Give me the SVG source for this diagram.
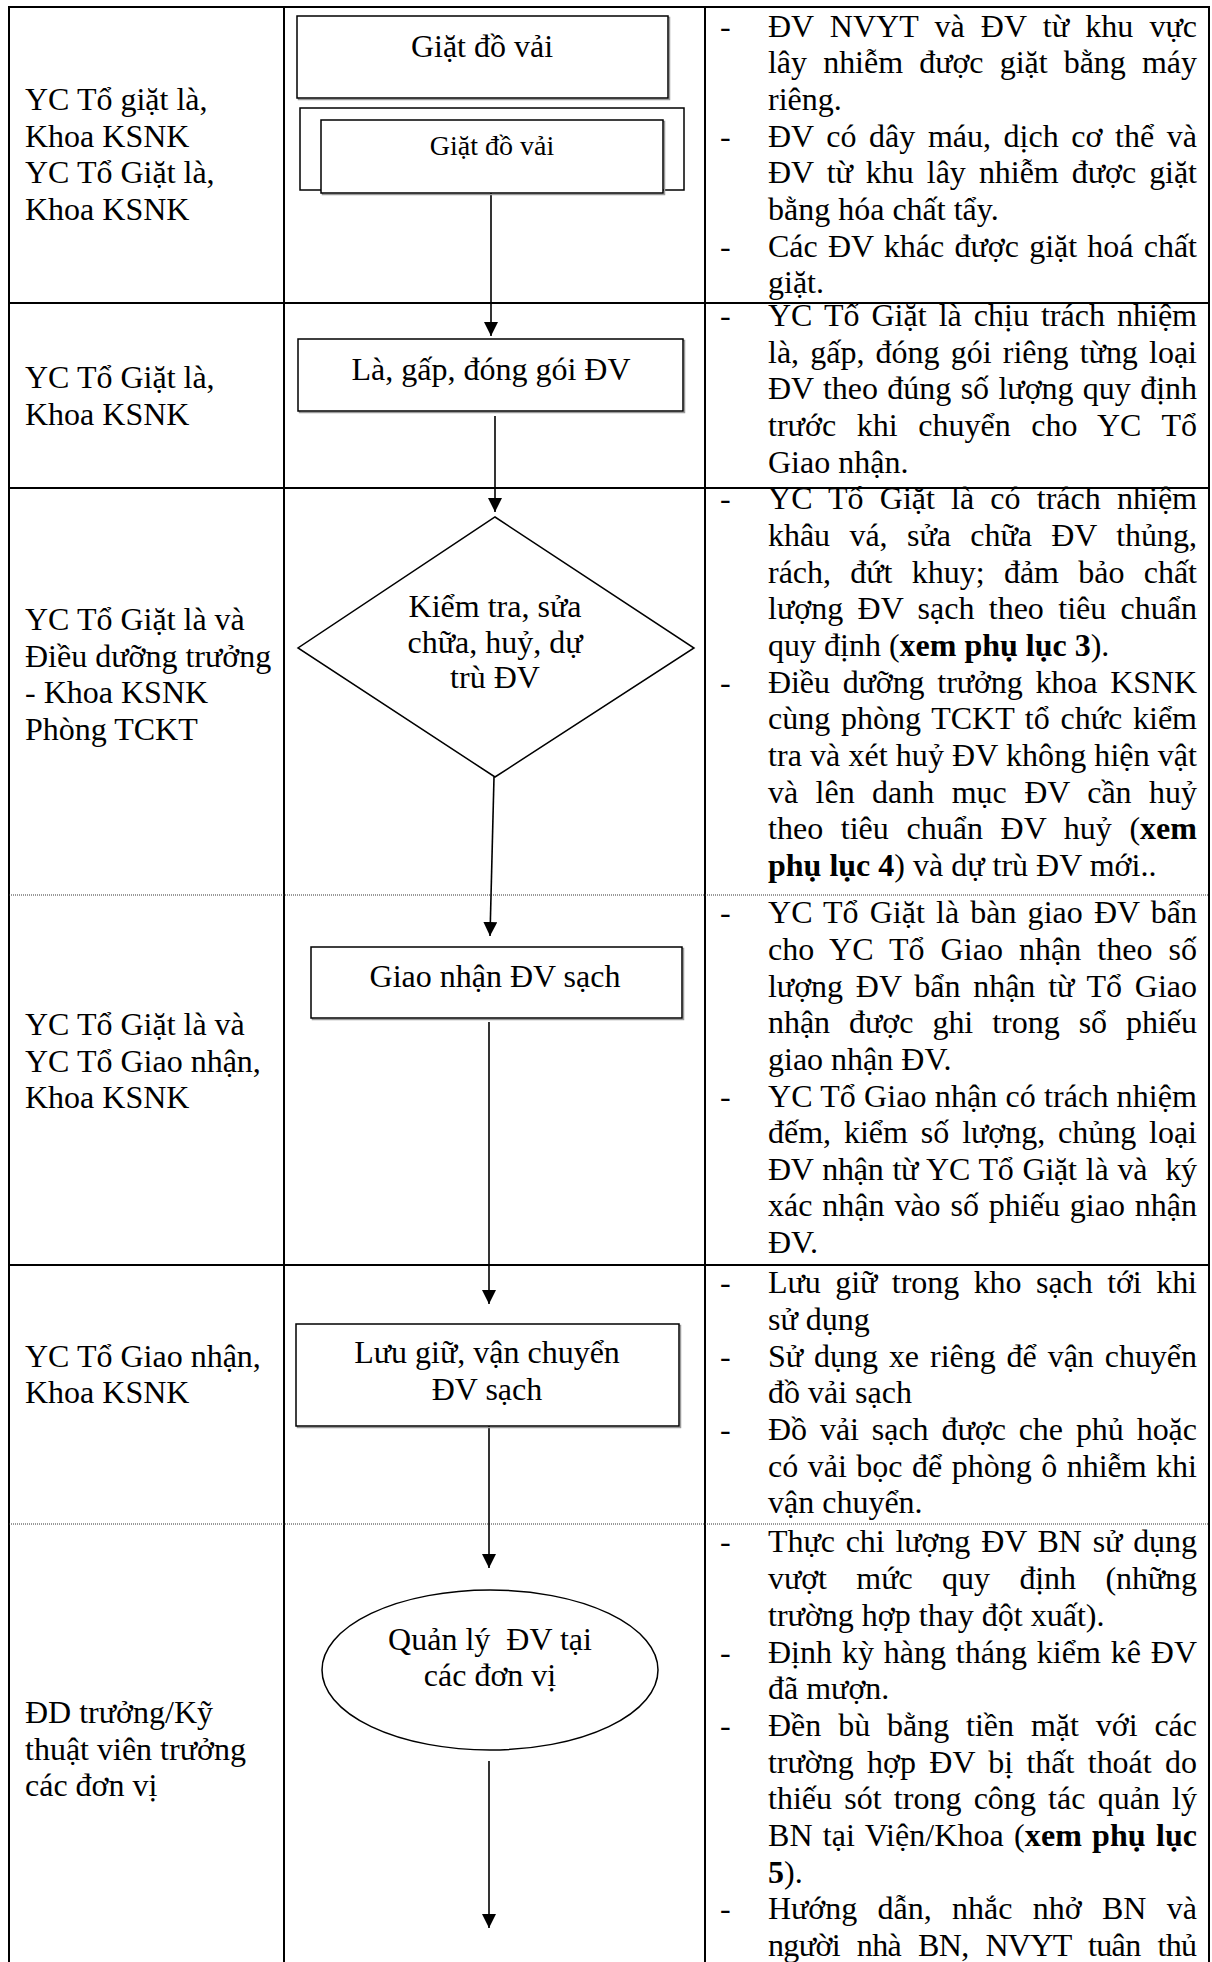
<svg xmlns="http://www.w3.org/2000/svg" width="1212" height="1962" viewBox="0 0 1212 1962">
<style>
.tx{font-family:"Liberation Serif","Times New Roman",serif;font-size:32px;fill:#000}
.c{text-anchor:middle}
.sm{font-size:28px}
.b{font-weight:bold}
.grid{stroke:#000;stroke-width:2;fill:none}
.dot{stroke:#333;stroke-width:1;stroke-dasharray:1 1;fill:none}
.node{fill:#fff;stroke:#000;stroke-width:1.5}
.shadow{fill:none;stroke:#9a9a9a;stroke-width:1.5}
.edge{stroke:#000;stroke-width:1.6;fill:none;marker-end:url(#ah)}
</style>
<defs>
<marker id="ah" viewBox="0 0 14 14" markerWidth="14" markerHeight="14" refX="14" refY="7" orient="auto" markerUnits="userSpaceOnUse">
<path d="M0,0 L14,7 L0,14 z" fill="#000"/>
</marker>
</defs>
<rect width="1212" height="1962" fill="#fff"/>
<g id="table">
<line class="grid" x1="9" y1="7" x2="1209" y2="7"/>
<line class="grid" x1="9" y1="6" x2="9" y2="1962"/>
<line class="grid" x1="284" y1="6" x2="284" y2="1962"/>
<line class="grid" x1="705" y1="6" x2="705" y2="1962"/>
<line class="grid" x1="1209" y1="6" x2="1209" y2="1962"/>
<line class="grid" x1="9" y1="303" x2="1209" y2="303"/>
<line class="grid" x1="9" y1="488" x2="1209" y2="488"/>
<line class="grid" x1="9" y1="1265" x2="1209" y2="1265"/>
<line class="dot" x1="9" y1="895" x2="1209" y2="895"/>
<line class="dot" x1="9" y1="1524" x2="1209" y2="1524"/>
</g>
<g id="labels" class="tx">
<text x="25" y="110">YC Tổ giặt là,</text>
<text x="25" y="147">Khoa KSNK</text>
<text x="25" y="183">YC Tổ Giặt là,</text>
<text x="25" y="220">Khoa KSNK</text>
<text x="25" y="388">YC Tổ Giặt là,</text>
<text x="25" y="425">Khoa KSNK</text>
<text x="25" y="630">YC Tổ Giặt là và</text>
<text x="25" y="667">Điều dưỡng trưởng</text>
<text x="25" y="703">- Khoa KSNK</text>
<text x="25" y="740">Phòng TCKT</text>
<text x="25" y="1035">YC Tổ Giặt là và</text>
<text x="25" y="1072">YC Tổ Giao nhận,</text>
<text x="25" y="1108">Khoa KSNK</text>
<text x="25" y="1367">YC Tổ Giao nhận,</text>
<text x="25" y="1403">Khoa KSNK</text>
<text x="25" y="1723">ĐD trưởng/Kỹ</text>
<text x="25" y="1760">thuật viên trưởng</text>
<text x="25" y="1796">các đơn vị</text>
</g>
<g id="connectors">
<line class="edge" x1="491" y1="193" x2="491" y2="336"/>
<line class="edge" x1="495" y1="416" x2="495" y2="512"/>
<line class="edge" x1="494" y1="777" x2="490" y2="936"/>
<line class="edge" x1="489" y1="1022" x2="489" y2="1304"/>
<line class="edge" x1="489" y1="1426" x2="489" y2="1568"/>
<line class="edge" x1="489" y1="1761" x2="489" y2="1928"/>
</g>
<g id="n1">
<rect class="shadow" x="298.5" y="17.5" width="371" height="82"/>
<rect class="node" x="297" y="16" width="371" height="82"/>
<text class="tx c" x="482" y="57">Giặt đồ vải</text>
</g>
<g id="n2">
<rect class="node" x="300" y="108" width="384" height="82"/>
<rect class="shadow" x="322.5" y="121.5" width="342" height="73"/>
<rect class="node" x="321" y="120" width="342" height="73"/>
<text class="tx c sm" x="492" y="155">Giặt đồ vải</text>
</g>
<g id="n3">
<rect class="shadow" x="299.5" y="340.5" width="385" height="72"/>
<rect class="node" x="298" y="339" width="385" height="72"/>
<text class="tx c" x="491" y="380">Là, gấp, đóng gói ĐV</text>
</g>
<g id="n4">
<polygon class="node" points="495,517 694,648 495,777 298,648"/>
<text class="tx c" x="495" y="617">Kiểm tra, sửa</text>
<text class="tx c" x="495" y="653">chữa, huỷ, dự</text>
<text class="tx c" x="495" y="688">trù ĐV</text>
</g>
<g id="n5">
<rect class="shadow" x="312.5" y="948.5" width="371" height="71"/>
<rect class="node" x="311" y="947" width="371" height="71"/>
<text class="tx c" x="495" y="987">Giao nhận ĐV sạch</text>
</g>
<g id="n6">
<rect class="shadow" x="297.5" y="1325.5" width="383" height="102"/>
<rect class="node" x="296" y="1324" width="383" height="102"/>
<text class="tx c" x="487" y="1363">Lưu giữ, vận chuyển</text>
<text class="tx c" x="487" y="1400">ĐV sạch</text>
</g>
<g id="n7">
<ellipse class="node" cx="490" cy="1670" rx="168" ry="80"/>
<text class="tx c" x="490" y="1650" xml:space="preserve">Quản lý  ĐV tại</text>
<text class="tx c" x="490" y="1686">các đơn vị</text>
</g>
<g id="notes" class="tx">
<text x="720" y="37">-</text>
<text x="768" y="37" textLength="429" lengthAdjust="spacing" word-spacing="8.2">ĐV NVYT và ĐV từ khu vực</text>
<text x="768" y="73" textLength="429" lengthAdjust="spacing" word-spacing="8.2">lây nhiễm được giặt bằng máy</text>
<text x="768" y="110">riêng.</text>
<text x="720" y="147">-</text>
<text x="768" y="147" textLength="429" lengthAdjust="spacing" word-spacing="4.6">ĐV có dây máu, dịch cơ thể và</text>
<text x="768" y="183" textLength="429" lengthAdjust="spacing" word-spacing="5.1">ĐV từ khu lây nhiễm được giặt</text>
<text x="768" y="220">bằng hóa chất tẩy.</text>
<text x="720" y="257">-</text>
<text x="768" y="257" textLength="429" lengthAdjust="spacing" word-spacing="2.3">Các ĐV khác được giặt hoá chất</text>
<text x="768" y="293">giặt.</text>

<text x="720" y="326">-</text>
<text x="768" y="326" textLength="429" lengthAdjust="spacing" word-spacing="4">YC Tổ Giặt là chịu trách nhiệm</text>
<text x="768" y="363" textLength="429" lengthAdjust="spacing" word-spacing="3.2">là, gấp, đóng gói riêng từng loại</text>
<text x="768" y="399" textLength="429" lengthAdjust="spacing" word-spacing="1.4">ĐV theo đúng số lượng quy định</text>
<text x="768" y="436" textLength="429" lengthAdjust="spacing" word-spacing="12.5">trước khi chuyển cho YC Tổ</text>
<text x="768" y="473">Giao nhận.</text>

<text x="720" y="509">-</text>
<text x="768" y="509" textLength="429" lengthAdjust="spacing" word-spacing="8.1">YC Tổ Giặt là có trách nhiệm</text>
<text x="768" y="546" textLength="429" lengthAdjust="spacing" word-spacing="11.4">khâu vá, sửa chữa ĐV thủng,</text>
<text x="768" y="583" textLength="429" lengthAdjust="spacing" word-spacing="11.4">rách, đứt khuy; đảm bảo chất</text>
<text x="768" y="619" textLength="429" lengthAdjust="spacing" word-spacing="6.4">lượng ĐV sạch theo tiêu chuẩn</text>
<text x="768" y="656">quy định (<tspan class="b">xem phụ lục 3</tspan>).</text>
<text x="720" y="693">-</text>
<text x="768" y="693" textLength="429" lengthAdjust="spacing" word-spacing="5">Điều dưỡng trưởng khoa KSNK</text>
<text x="768" y="729" textLength="429" lengthAdjust="spacing" word-spacing="2.7">cùng phòng TCKT tổ chức kiểm</text>
<text x="768" y="766" textLength="429" lengthAdjust="spacing">tra và xét huỷ ĐV không hiện vật</text>
<text x="768" y="803" textLength="429" lengthAdjust="spacing" word-spacing="9.3">và lên danh mục ĐV cần huỷ</text>
<text x="768" y="839" textLength="429" lengthAdjust="spacing" word-spacing="9.5">theo tiêu chuẩn ĐV huỷ (<tspan class="b">xem</tspan></text>
<text x="768" y="876"><tspan class="b">phụ lục 4</tspan>) và dự trù ĐV mới..</text>

<text x="720" y="923">-</text>
<text x="768" y="923" textLength="429" lengthAdjust="spacing" word-spacing="3">YC Tổ Giặt là bàn giao ĐV bẩn</text>
<text x="768" y="960" textLength="429" lengthAdjust="spacing" word-spacing="7.8">cho YC Tổ Giao nhận theo số</text>
<text x="768" y="997" textLength="429" lengthAdjust="spacing" word-spacing="4.8">lượng ĐV bẩn nhận từ Tổ Giao</text>
<text x="768" y="1033" textLength="429" lengthAdjust="spacing" word-spacing="11.1">nhận được ghi trong sổ phiếu</text>
<text x="768" y="1070">giao nhận ĐV.</text>
<text x="720" y="1107">-</text>
<text x="768" y="1107" textLength="429" lengthAdjust="spacing">YC Tổ Giao nhận có trách nhiệm</text>
<text x="768" y="1143" textLength="429" lengthAdjust="spacing" word-spacing="5">đếm, kiểm số lượng, chủng loại</text>
<text x="768" y="1180" textLength="429" lengthAdjust="spacing" word-spacing="1.3" xml:space="preserve">ĐV nhận từ YC Tổ Giặt là và  ký</text>
<text x="768" y="1216" textLength="429" lengthAdjust="spacing" word-spacing="1.9">xác nhận vào số phiếu giao nhận</text>
<text x="768" y="1253">ĐV.</text>

<text x="720" y="1293">-</text>
<text x="768" y="1293" textLength="429" lengthAdjust="spacing" word-spacing="6.6">Lưu giữ trong kho sạch tới khi</text>
<text x="768" y="1330">sử dụng</text>
<text x="720" y="1367">-</text>
<text x="768" y="1367" textLength="429" lengthAdjust="spacing" word-spacing="3">Sử dụng xe riêng để vận chuyển</text>
<text x="768" y="1403">đồ vải sạch</text>
<text x="720" y="1440">-</text>
<text x="768" y="1440" textLength="429" lengthAdjust="spacing" word-spacing="4.9">Đồ vải sạch được che phủ hoặc</text>
<text x="768" y="1477" textLength="429" lengthAdjust="spacing" word-spacing="1.5">có vải bọc để phòng ô nhiễm khi</text>
<text x="768" y="1513">vận chuyển.</text>

<text x="720" y="1552">-</text>
<text x="768" y="1552" textLength="429" lengthAdjust="spacing" word-spacing="2.9">Thực chi lượng ĐV BN sử dụng</text>
<text x="768" y="1589" textLength="429" lengthAdjust="spacing" word-spacing="21.7">vượt mức quy định (những</text>
<text x="768" y="1626">trường hợp thay đột xuất).</text>
<text x="720" y="1663">-</text>
<text x="768" y="1663" textLength="429" lengthAdjust="spacing" word-spacing="1.9">Định kỳ hàng tháng kiểm kê ĐV</text>
<text x="768" y="1699">đã mượn.</text>
<text x="720" y="1736">-</text>
<text x="768" y="1736" textLength="429" lengthAdjust="spacing" word-spacing="8.9">Đền bù bằng tiền mặt với các</text>
<text x="768" y="1773" textLength="429" lengthAdjust="spacing" word-spacing="5.4">trường hợp ĐV bị thất thoát do</text>
<text x="768" y="1809" textLength="429" lengthAdjust="spacing" word-spacing="4.2">thiếu sót trong công tác quản lý</text>
<text x="768" y="1846" textLength="429" lengthAdjust="spacing" word-spacing="2.1">BN tại Viện/Khoa (<tspan class="b">xem phụ lục</tspan></text>
<text x="768" y="1883"><tspan class="b">5</tspan>).</text>
<text x="720" y="1919">-</text>
<text x="768" y="1919" textLength="429" lengthAdjust="spacing" word-spacing="12.5">Hướng dẫn, nhắc nhở BN và</text>
<text x="768" y="1956" textLength="429" lengthAdjust="spacing" word-spacing="9.5">người nhà BN, NVYT tuân thủ</text>
</g>
</svg>
